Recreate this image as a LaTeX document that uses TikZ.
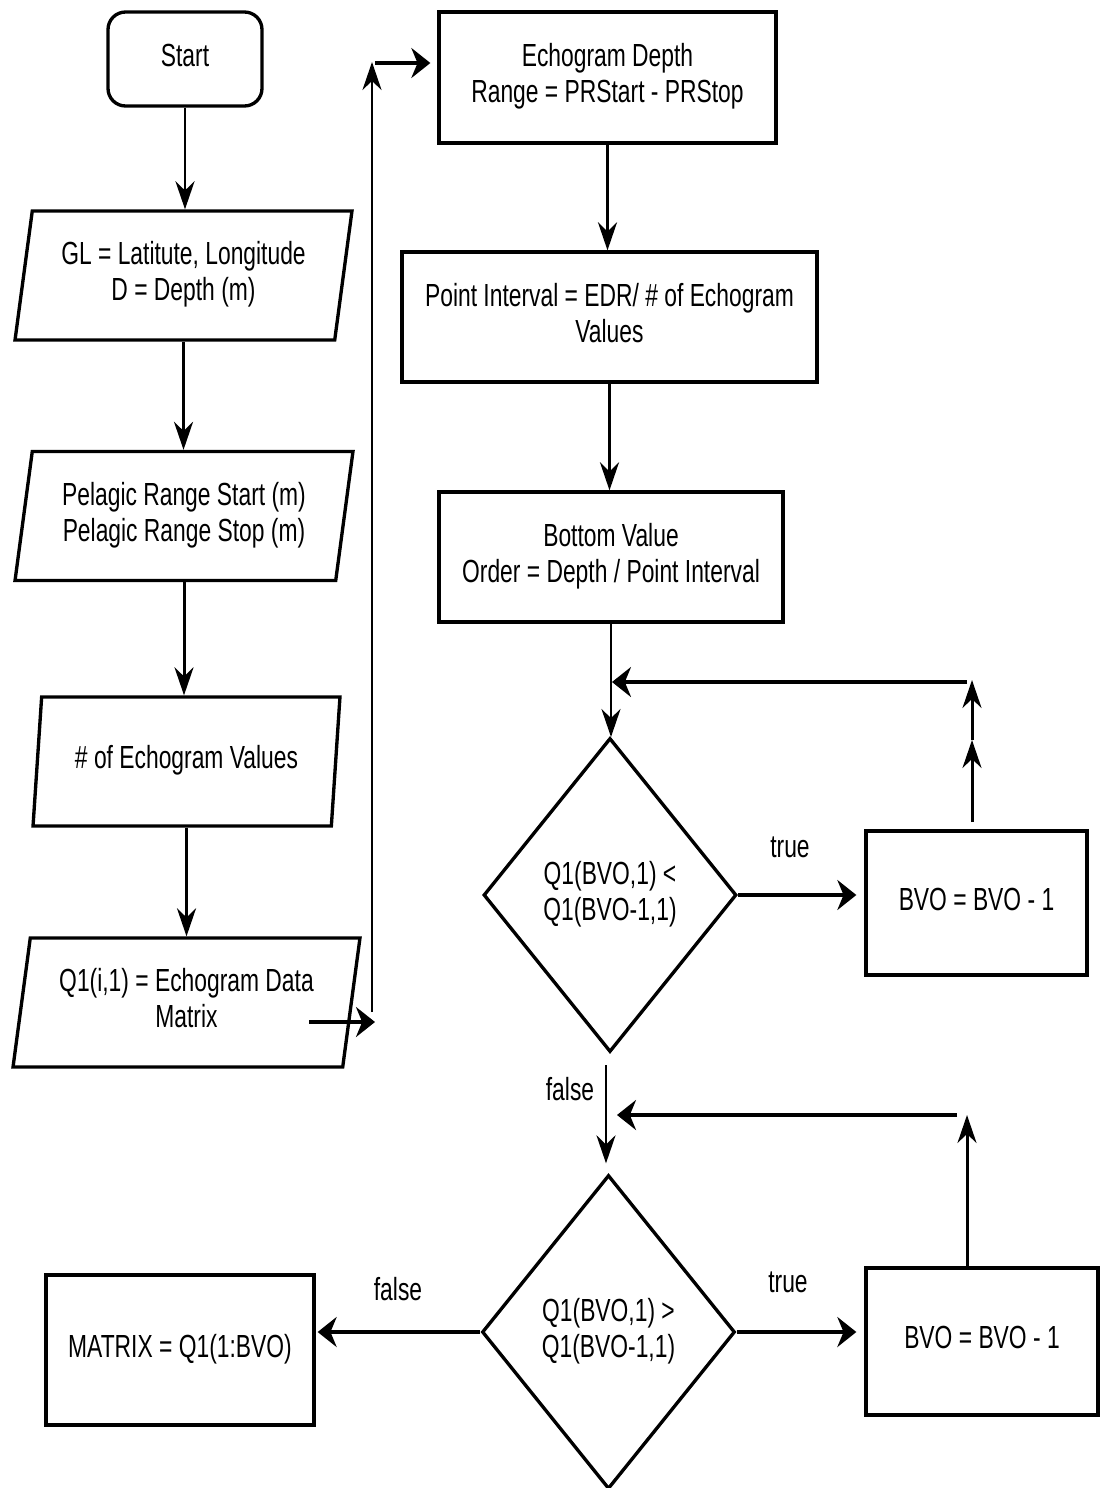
\documentclass[tikz,border=0pt]{standalone}
\usepackage{fontspec}
\setmainfont{Liberation Sans}
\usepackage{graphicx}
\usetikzlibrary{arrows.meta, shapes.geometric, positioning}

% tall, narrow lettering of the original drawing
\newcommand{\tl}[1]{\scalebox{1}[1.4]{\begin{tabular}{@{}c@{}}#1\end{tabular}}}

\begin{document}
\begin{tikzpicture}[
  x=0.02cm, y=-0.02cm,
  every node/.style={font=\fontsize{13}{14.6}\selectfont},
  startbox/.style={
    rectangle, rounded corners=0.35cm, draw, line width=1.9pt,
    minimum width=3.08cm, minimum height=1.88cm, inner sep=0pt
  },
  procbox/.style={
    rectangle, draw, line width=1.9pt, minimum height=2.6cm, inner sep=0pt
  },
  iobox/.style={
    trapezium, trapezium left angle=76.5, trapezium right angle=103.5,
    trapezium stretches body, draw, line width=1.9pt,
    minimum height=2.58cm, inner sep=0pt
  },
  decision/.style={
    diamond, draw, line width=1.9pt,
    minimum width=5.06cm, minimum height=6.28cm, inner sep=0pt
  },
  arrowV/.style={-{Stealth[length=5.6mm, width=3.8mm]}, line width=1.7pt},
  arrowH/.style={-{Stealth[length=3.8mm, width=6mm]}, line width=1.9pt}
]
\useasboundingbox (0,0) rectangle (1102,1488);

% ============================================================
% Left column: start and the inputs
\node[startbox] (start) at (185,59) {\tl{Start}};
\node[iobox, minimum width=6.74cm] (gl) at (183.5,275.5)
  {\tl{GL = Latitute, Longitude\\ D = Depth (m)}};
\node[iobox, minimum width=6.76cm] (prange) at (184,516)
  {\tl{Pelagic Range Start (m)\\ Pelagic Range Stop (m)}};
\node[iobox, minimum width=6.14cm] (nvals) at (186.5,761.5)
  {\tl{\# of Echogram Values}};
\node[iobox, minimum width=6.94cm] (qdata) at (186.5,1002.5)
  {\tl{Q1(i,1) = Echogram Data\\ Matrix}};

\draw[arrowV] (start.south) -- (start.south |- gl.north);
\draw[arrowV] (gl.south) -- (gl.south |- prange.north);
\draw[arrowV] (prange.south) -- (prange.south |- nvals.north);
\draw[arrowV] (nvals.south) -- (nvals.south |- qdata.north);

% jump from the data matrix up to the top of the right column
\coordinate (qout) at (309,1022);
\coordinate (qtip) at (375,1022);
\coordinate (upfoot) at (372,1012);
\coordinate (uptop) at (372,62);
\coordinate (rstart) at (375,63);
\draw[arrowH] (qout) -- (qtip);
\draw[arrowV] (upfoot) -- (uptop);

% ============================================================
% Right column: depth range, interval, bottom value order
\node[procbox, minimum width=6.74cm, minimum height=2.62cm] (edr) at (607.5,77.5)
  {\tl{Echogram Depth\\ Range = PRStart - PRStop}};
\node[procbox, minimum width=8.3cm] (pint) at (609.5,317)
  {\tl{Point Interval = EDR/ \# of Echogram\\ Values}};
\node[procbox, minimum width=6.88cm] (bvorder) at (611,557)
  {\tl{Bottom Value\\ Order = Depth / Point Interval}};

\draw[arrowH, shorten >=0.14cm] (rstart) -- (rstart -| edr.west);
\draw[arrowV] (edr.south) -- (edr.south |- pint.north);
\draw[arrowV] (pint.south) -- (pint.south |- bvorder.north);
\draw[arrowV] (bvorder.south) -- (bvorder.south |- 0,737);

% first test
\node[decision] (dec1) at (610,895) {\tl{Q1(BVO,1) <\\ Q1(BVO-1,1)}};
\node[procbox, minimum width=4.42cm, minimum height=2.88cm] (bvo1) at (976.5,903)
  {\tl{BVO = BVO - 1}};
\node (true1) at (790,850) {\tl{true}};
\draw[arrowH, shorten >=0.16cm] (dec1.east) -- (bvo1.west |- dec1.east);

\coordinate (l1mid) at (972,740);
\coordinate (l1top) at (972,680);
\coordinate (l1right) at (967,682);
\draw[arrowV] (l1top |- 0,822) -- (l1mid);
\draw[arrowV] (l1mid) -- (l1top);
\draw[arrowH] (l1right) -- (l1right -| 612,0);

% second test
\node[decision] (dec2) at (608.5,1332) {\tl{Q1(BVO,1) >\\ Q1(BVO-1,1)}};
\node[procbox, minimum width=4.64cm, minimum height=2.94cm] (bvo2) at (982,1341.5)
  {\tl{BVO = BVO - 1}};
\node[procbox, minimum width=5.36cm, minimum height=3cm] (mat) at (180,1350)
  {\tl{MATRIX = Q1(1:BVO)}};

\coordinate (f1) at (606,1065);
\node (false1) at (570,1093) {\tl{false}};
\draw[arrowV, shorten >=0.2cm] (f1) -- (f1 |- dec2.north);

\coordinate (l2top) at (967,1115);
\coordinate (l2right) at (957,1115);
\draw[arrowV] (l2top |- bvo2.north) -- (l2top);
\draw[arrowH] (l2right) -- (l2right -| 617,0);

\node (true2) at (788,1285) {\tl{true}};
\draw[arrowH, shorten >=0.16cm] (dec2.east) -- (bvo2.west |- dec2.east);
\node (false2) at (398,1293) {\tl{false}};
\draw[arrowH, shorten >=0.04cm] (dec2.west) -- (mat.east |- dec2.west);

\end{tikzpicture}
\end{document}
